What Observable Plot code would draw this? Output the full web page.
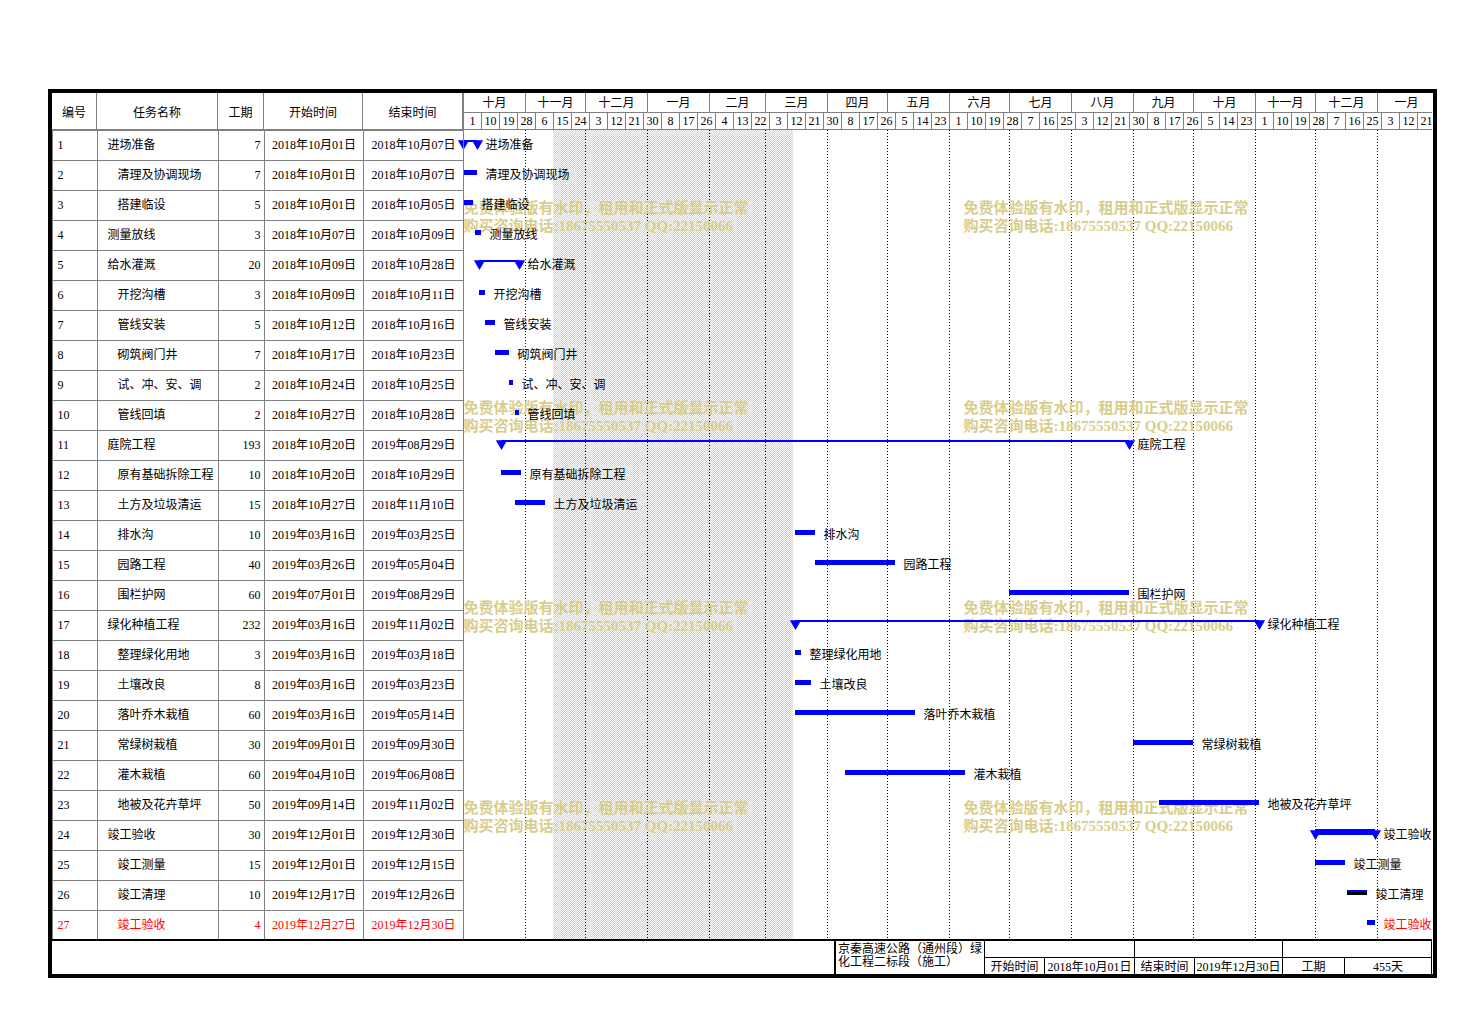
<!DOCTYPE html>
<html><head><meta charset="utf-8">
<script src="https://cdn.jsdelivr.net/npm/d3@7"></script>
<script src="https://cdn.jsdelivr.net/npm/@observablehq/plot@0.6"></script>
<style>
body{margin:0;background:#fff;}
#page{position:relative;width:1483px;height:1025px;overflow:hidden;font-family:"Liberation Serif","Noto Sans CJK SC",serif;font-size:12px;color:#000;background:#fff;}
.abs{position:absolute;box-sizing:border-box;}
</style></head><body><div id="page"></div>
<script>
// ---------------- data ----------------
const ids = [1,2,3,4,5,6,7,8,9,10,11,12,13,14,15,16,17,18,19,20,21,22,23,24,25,26,27];
const names = ["进场准备","清理及协调现场","搭建临设","测量放线","给水灌溉","开挖沟槽","管线安装","砌筑阀门井","试、冲、安、调","管线回填",
  "庭院工程","原有基础拆除工程","土方及垃圾清运","排水沟","园路工程","围栏护网","绿化种植工程","整理绿化用地","土壤改良","落叶乔木栽植",
  "常绿树栽植","灌木栽植","地被及花卉草坪","竣工验收","竣工测量","竣工清理","竣工验收"];
const levels = [1,2,2,1,1,2,2,2,2,2,1,2,2,2,2,2,1,2,2,2,2,2,2,1,2,2,2];
const durations = [7,7,5,3,20,3,5,7,2,2,193,10,15,10,40,60,232,3,8,60,30,60,50,30,15,10,4];
const starts = ["2018-10-01","2018-10-01","2018-10-01","2018-10-07","2018-10-09","2018-10-09","2018-10-12","2018-10-17","2018-10-24","2018-10-27",
  "2018-10-20","2018-10-20","2018-10-27","2019-03-16","2019-03-26","2019-07-01","2019-03-16","2019-03-16","2019-03-16","2019-03-16",
  "2019-09-01","2019-04-10","2019-09-14","2019-12-01","2019-12-01","2019-12-17","2019-12-27"];
const ends = ["2018-10-07","2018-10-07","2018-10-05","2018-10-09","2018-10-28","2018-10-11","2018-10-16","2018-10-23","2018-10-25","2018-10-28",
  "2019-08-29","2018-10-29","2018-11-10","2019-03-25","2019-05-04","2019-08-29","2019-11-02","2019-03-18","2019-03-23","2019-05-14",
  "2019-09-30","2019-06-08","2019-11-02","2019-12-30","2019-12-15","2019-12-26","2019-12-30"];
const summaryIds = [1,5,11,17,24];
const columnHeaders = ["编号","任务名称","工期","开始时间","结束时间"];
const monthStarts = ["2018-10-01","2018-11-01","2018-12-01","2019-01-01","2019-02-01","2019-03-01","2019-04-01","2019-05-01",
  "2019-06-01","2019-07-01","2019-08-01","2019-09-01","2019-10-01","2019-11-01","2019-12-01","2020-01-01"];
const monthLabels = ["十月","十一月","十二月","一月","二月","三月","四月","五月","六月","七月","八月","九月","十月","十一月","十二月","一月"];
const dayTicks = ["2018-10-01","2018-10-10","2018-10-19","2018-10-28","2018-11-06","2018-11-15","2018-11-24","2018-12-03","2018-12-12","2018-12-21","2018-12-30",
  "2019-01-08","2019-01-17","2019-01-26","2019-02-04","2019-02-13","2019-02-22","2019-03-03","2019-03-12","2019-03-21","2019-03-30",
  "2019-04-08","2019-04-17","2019-04-26","2019-05-05","2019-05-14","2019-05-23","2019-06-01","2019-06-10","2019-06-19","2019-06-28",
  "2019-07-07","2019-07-16","2019-07-25","2019-08-03","2019-08-12","2019-08-21","2019-08-30","2019-09-08","2019-09-17","2019-09-26",
  "2019-10-05","2019-10-14","2019-10-23","2019-11-01","2019-11-10","2019-11-19","2019-11-28","2019-12-07","2019-12-16","2019-12-25",
  "2020-01-03","2020-01-12","2020-01-21"];
const timelineStart = "2018-10-01", timelineEnd = "2020-01-30";
const shadeStart = "2018-11-15", shadeEnd = "2019-03-15";
const projectTitle = "京秦高速公路（通州段）绿化工程二标段（施工）";
const footerLabels = ["开始时间","2018年10月01日","结束时间","2019年12月30日","工期","455天"];
const watermarkLines = ["免费体验版有水印，租用和正式版显示正常","购买咨询电话:18675550537 QQ:22150066"];

// ---------------- build ----------------
const FONT = '"Liberation Serif","Noto Sans CJK SC",serif';
const page = document.getElementById("page");
const parse = s => new Date(s + "T00:00:00Z");
const fmt = d3.utcFormat("%Y年%m月%d日");
const tasks = ids.map((id, i) => ({
  id, name: names[i], level: levels[i], dur: durations[i],
  start: parse(starts[i]), endDay: parse(ends[i]), end: d3.utcDay.offset(parse(ends[i]), 1),
  summary: summaryIds.includes(id)
}));
const colorOf = d => d.id === 27 ? "#ff0000" : "#000000";

function box(l, t, w, h, css) {
  const d = document.createElement("div");
  d.className = "abs";
  Object.assign(d.style, {left: l + "px", top: t + "px", width: w + "px", height: h + "px"}, css || {});
  page.appendChild(d);
  return d;
}
function place(el, l, t) {
  el.style.position = "absolute"; el.style.left = l + "px"; el.style.top = t + "px";
  page.appendChild(el);
}

// layout (pixels)
const IL = 52, IT = 93, IR = 1432, HDR = 37, ROW = 30;
const BODY_T = IT + HDR, BODY_H = ROW * ids.length, BODY_B = BODY_T + BODY_H;
const colEdges = [0, 45, 166, 212, 311, 411];
const GX = IL + colEdges[5], GW = IR - GX;
const x0 = parse(timelineStart), x1 = parse(timelineEnd);
const pxPerDay = 2;
const xScale = {type: "utc", domain: [x0, x1], range: [0, d3.utcDay.count(x0, x1) * pxPerDay], axis: null};
const baseStyle = {fontFamily: FONT, fontSize: "12px", background: "none", overflow: "visible", color: "#000"};

// table header cells
columnHeaders.forEach((h, j) => {
  const c = box(IL + colEdges[j], IT, colEdges[j + 1] - colEdges[j], HDR,
    {borderRight: "1px solid #808080", display: "flex", alignItems: "center", justifyContent: "center", fontFamily: FONT});
  c.textContent = h;
});

// gantt header (months + day ticks)
const monthObjs = monthStarts.map((s, i) => {
  const a = parse(s);
  const b = i + 1 < monthStarts.length ? parse(monthStarts[i + 1]) : x1;
  return {start: a, mid: new Date((+a + +(b < x1 ? b : x1)) / 2), label: monthLabels[i]};
});
const tickObjs = dayTicks.map(s => ({date: parse(s), mid: d3.utcHour.offset(parse(s), 9 * 24 / 2), label: String(parse(s).getUTCDate())}));
const header = Plot.plot({
  width: GW, height: HDR, margin: 0,
  x: xScale, y: {domain: [0, 2], range: [0, HDR], axis: null},
  style: baseStyle,
  marks: [
    Plot.ruleY([1], {stroke: "#808080", shapeRendering: "crispEdges"}),
    Plot.ruleX(monthObjs, {x: "start", y1: () => 0, y2: () => 1, stroke: "#808080", shapeRendering: "crispEdges"}),
    Plot.ruleX(tickObjs, {x: "date", y1: () => 1, y2: () => 2, stroke: "#808080", shapeRendering: "crispEdges"}),
    Plot.text(monthObjs, {x: "mid", y: () => 0.5, text: "label", fill: "#000"}),
    Plot.text(tickObjs, {x: "mid", y: () => 1.5, text: "label", fill: "#000"})
  ]
});
place(header, GX, IT);

// table body
const cellData = tasks.flatMap(t => columnHeaders.map((c, j) => ({id: t.id, a: colEdges[j], b: colEdges[j + 1]})));
const table = Plot.plot({
  width: colEdges[5], height: BODY_H, margin: 0,
  x: {domain: [0, colEdges[5]], range: [0, colEdges[5]], axis: null},
  y: {type: "band", domain: ids, range: [0, BODY_H], padding: 0, axis: null},
  color: {type: "identity"},
  style: baseStyle,
  marks: [
    Plot.barX(cellData, {x1: "a", x2: "b", y: "id", fill: "none", stroke: "#808080", shapeRendering: "crispEdges"}),
    Plot.text(tasks, {x: () => colEdges[0] + 5, y: "id", text: d => String(d.id), textAnchor: "start", fill: colorOf}),
    Plot.text(tasks, {x: d => colEdges[1] + (d.level === 1 ? 10 : 20), y: "id", text: "name", textAnchor: "start", fill: colorOf}),
    Plot.text(tasks, {x: () => colEdges[3] - 4, y: "id", text: d => String(d.dur), textAnchor: "end", fill: colorOf}),
    Plot.text(tasks, {x: () => (colEdges[3] + colEdges[4]) / 2, y: "id", text: d => fmt(d.start), fill: colorOf}),
    Plot.text(tasks, {x: () => (colEdges[4] + colEdges[5]) / 2, y: "id", text: d => fmt(d.endDay), fill: colorOf})
  ]
});
place(table, IL, BODY_T);

// gantt body
const plain = tasks.filter(d => !d.summary);
const summ = tasks.filter(d => d.summary);
const thick = new Set([24]);
const triangles = summ.flatMap(d => [{id: d.id, x: d.start}, {id: d.id, x: d.end}]);
const wmSpots = [[0, 70], [500, 70], [0, 270], [500, 270], [0, 470], [500, 470], [0, 670], [500, 670]];
const gantt = Plot.plot({
  width: GW, height: BODY_H, margin: 0,
  x: xScale,
  y: {type: "band", domain: ids, range: [0, BODY_H], padding: 0, axis: null},
  color: {type: "identity"},
  style: baseStyle,
  marks: [
    Plot.barX([{a: parse(shadeStart), b: parse(shadeEnd)}], {x1: "a", x2: "b", fill: "url(#stipple)"}),
    Plot.ruleX(monthStarts.slice(1), {x: d => parse(d), stroke: "#000", strokeDasharray: "1,2", shapeRendering: "crispEdges"}),
    ...wmSpots.map(([dx, dy]) => Plot.text([watermarkLines.join("\n")], {
      text: d => d, frameAnchor: "top-left", dx, dy, textAnchor: "start", lineAnchor: "top", lineHeight: 1.2,
      fontSize: 15, fontWeight: "bold", fill: "#d8cd8c"})),
    Plot.barX(plain, {x1: "start", x2: "end", y: "id", fill: "#0000ff", insetTop: 10, insetBottom: 15}),
    Plot.barX(plain.filter(d => d.id === 26), {x1: "start", x2: "end", y: "id", fill: "#000", insetTop: 12, insetBottom: 15}),
    Plot.barX(summ.filter(d => !thick.has(d.id)), {x1: "start", x2: "end", y: "id", fill: "#0000ff", insetTop: 10, insetBottom: 18}),
    Plot.barX(summ.filter(d => thick.has(d.id)), {x1: "start", x2: "end", y: "id", fill: "#0000ff", insetTop: 9, insetBottom: 15}),
    Plot.dot(triangles, {x: "x", y: "id", symbol: "triangle", rotate: 180, r: 4.2, fill: "#0000ff", stroke: "none", dy: -2}),
    Plot.text(tasks, {x: "end", y: "id", text: "name", textAnchor: "start", dx: 8, fill: colorOf})
  ]
});
const ns = "http://www.w3.org/2000/svg";
const defs = document.createElementNS(ns, "defs");
defs.innerHTML = '<pattern id="stipple" width="2" height="2" patternUnits="userSpaceOnUse">' +
  '<rect width="1" height="1" fill="#cfcfcf"/><rect x="1" y="1" width="1" height="1" fill="#cfcfcf"/></pattern>';
gantt.insertBefore(defs, gantt.firstChild);
place(gantt, GX, BODY_T);

// structural lines
box(IL, BODY_T - 1, IR - IL, 1, {background: "#808080"});
box(GX, IT, 1, BODY_B - IT, {background: "#808080"});
box(IL, BODY_B - 1, IR - IL, 2, {background: "#000"});

// footer
const FT = BODY_B + 1, FB = 974, FH = FB - FT, FH1 = 17;
const t = box(834, FT, 151, FH, {borderLeft: "2px solid #000", borderRight: "1px solid #000", padding: "2px 0 0 2px", lineHeight: "13px", fontFamily: FONT, wordBreak: "break-all"});
t.textContent = projectTitle;
[[985, 1135], [1135, 1283], [1283, IR]].forEach(([a, b]) => box(a, FT, b - a, FH1, {borderRight: "1px solid #000", borderBottom: "1px solid #000"}));
const lowEdges = [985, 1045, 1135, 1195, 1283, 1345, IR];
footerLabels.forEach((s, i) => {
  const c = box(lowEdges[i], FT + FH1, lowEdges[i + 1] - lowEdges[i], FH - FH1,
    {borderRight: "1px solid #000", display: "flex", alignItems: "center", justifyContent: "center", fontFamily: FONT, whiteSpace: "nowrap"});
  c.textContent = s;
});

// outer frame
box(48, 89, 1389, 889, {border: "4px solid #000"});
</script>
</body></html>
